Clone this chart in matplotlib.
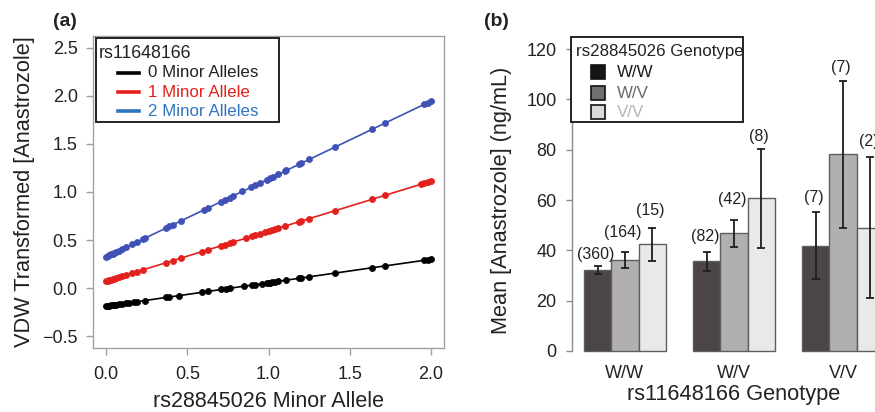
import matplotlib
matplotlib.use("Agg")
import matplotlib.pyplot as plt
from matplotlib.patches import Rectangle
from matplotlib.lines import Line2D

plt.rcParams['font.family'] = ['Liberation Sans', 'DejaVu Sans']

# ---------------- Panel (a) data ----------------
x_0minor = [0.00, 0.01, 0.02, 0.03, 0.04, 0.05, 0.06, 0.08, 0.10, 0.12, 0.14, 0.17, 0.19, 0.24,
            0.37, 0.39, 0.45, 0.59, 0.63, 0.71, 0.74, 0.76, 0.85, 0.90, 0.92, 0.96, 0.99, 1.00,
            1.01, 1.02, 1.04, 1.06, 1.11, 1.19, 1.20, 1.25, 1.41, 1.64, 1.72, 1.96, 1.98, 2.00]
y_0minor = [-0.185, -0.183, -0.180, -0.178, -0.175, -0.173, -0.170, -0.166, -0.161, -0.156,
            -0.151, -0.144, -0.139, -0.127, -0.095, -0.090, -0.076, -0.042, -0.032, -0.012,
            -0.005, 0.000, 0.022, 0.034, 0.039, 0.048, 0.056, 0.058, 0.060, 0.063, 0.068,
            0.073, 0.085, 0.104, 0.107, 0.119, 0.158, 0.214, 0.233, 0.291, 0.296, 0.301]

x_1minor = [0.00, 0.01, 0.02, 0.03, 0.04, 0.05, 0.06, 0.08, 0.10, 0.12, 0.16, 0.19, 0.23, 0.37,
            0.41, 0.46, 0.59, 0.63, 0.71, 0.73, 0.76, 0.78, 0.86, 0.90, 0.92, 0.95, 0.98, 1.00,
            1.02, 1.04, 1.06, 1.10, 1.19, 1.20, 1.25, 1.41, 1.64, 1.72, 1.94, 1.96, 1.98, 2.00]
y_1minor = [0.074, 0.079, 0.084, 0.090, 0.095, 0.100, 0.105, 0.116, 0.126, 0.136, 0.157, 0.173,
            0.193, 0.266, 0.287, 0.313, 0.380, 0.401, 0.442, 0.453, 0.468, 0.479, 0.520, 0.541,
            0.551, 0.567, 0.583, 0.593, 0.603, 0.614, 0.624, 0.645, 0.692, 0.697, 0.723, 0.806,
            0.925, 0.967, 1.081, 1.091, 1.102, 1.112]

x_2minor = [0.00, 0.01, 0.02, 0.03, 0.04, 0.05, 0.06, 0.08, 0.10, 0.12, 0.16, 0.19, 0.23, 0.24,
            0.37, 0.39, 0.41, 0.46, 0.60, 0.63, 0.71, 0.73, 0.76, 0.78, 0.84, 0.89, 0.92, 0.95,
            0.99, 1.01, 1.03, 1.06, 1.10, 1.11, 1.19, 1.20, 1.25, 1.41, 1.64, 1.72, 1.96, 1.98, 2.00]
y_2minor = [0.327, 0.335, 0.343, 0.351, 0.359, 0.367, 0.376, 0.392, 0.408, 0.424, 0.456, 0.481,
            0.513, 0.521, 0.626, 0.642, 0.658, 0.699, 0.812, 0.836, 0.901, 0.917, 0.941, 0.958,
            1.006, 1.047, 1.071, 1.095, 1.127, 1.144, 1.160, 1.184, 1.216, 1.224, 1.289, 1.297,
            1.338, 1.467, 1.653, 1.718, 1.912, 1.928, 1.944]

a_labels = ['0 Minor Alleles', '1 Minor Allele', '2 Minor Alleles']
a_legend_title = 'rs11648166'
a_xticks = [0.0, 0.5, 1.0, 1.5, 2.0]
a_yticks = [-0.5, 0.0, 0.5, 1.0, 1.5, 2.0, 2.5]

# ---------------- Panel (b) data ----------------
b_groups = ['W/W', 'W/V', 'V/V']            # rs11648166 genotype
b_series = ['W/W', 'W/V', 'V/V']            # rs28845026 genotype
ww_mean = [32.2, 35.7, 41.9]
ww_lo = [30.5, 31.8, 28.4]
ww_hi = [33.9, 39.5, 55.1]
ww_n = [360, 82, 7]
wv_mean = [36.0, 46.9, 78.2]
wv_lo = [32.9, 41.4, 49.0]
wv_hi = [39.2, 52.2, 107.2]
wv_n = [164, 42, 7]
vv_mean = [42.4, 60.7, 49.0]
vv_lo = [35.8, 41.0, 21.1]
vv_hi = [49.0, 80.4, 77.1]
vv_n = [15, 8, 2]
b_yticks = [0, 20, 40, 60, 80, 100, 120]

# ---------------- styles ----------------
line_colors = ['#000000', '#e3201b', '#3f51b5']
legend_line_colors = ['#000000', '#e3201b', '#2f74c0']
legend_text_colors = ['#222222', '#e3201b', '#2f74c0']
bar_colors = ['#4b4545', '#b2afaf', '#e9e9e9']
legend_sq_colors = ['#161616', '#707070', '#dadada']
legend_sq_text = ['#1a1a1a', '#6a6a6a', '#b5b5b5']
n_label_gap = [[4.6, 5.8, 5.7], [7.8, 8.1, 5.3], [7.0, 4.8, 6.1]]
frame_gray = '#a0a0a0'
text_col = '#222222'

W, H = 875, 412
fig = plt.figure(figsize=(W / 100, H / 100), dpi=100)

# ======== Panel (a) ========
axa = fig.add_axes([93 / W, 1 - 348 / H, (444 - 93) / W, (348 - 36) / H])
for xs, ys, c in zip([x_0minor, x_1minor, x_2minor], [y_0minor, y_1minor, y_2minor], line_colors):
    axa.plot(xs, ys, '-', color=c, lw=1.2, marker='o', ms=4.4, mec=c, mfc=c, mew=0.5)
axa.set_xlim(-0.08, 2.08)
axa.set_ylim(-0.62, 2.62)
axa.set_xticks(a_xticks)
axa.set_xticklabels([f'{v:.1f}' for v in a_xticks])
axa.set_yticks(a_yticks)
axa.set_yticklabels([f'{v:.1f}'.replace('-', '\u2212') for v in a_yticks])
for s in axa.spines.values():
    s.set_color(frame_gray)
    s.set_linewidth(1.0)
axa.tick_params(axis='both', colors=frame_gray, labelcolor=text_col, labelsize=13,
                length=5, width=1.0, direction='out')
axa.tick_params(axis='x', pad=8)
axa.tick_params(axis='y', pad=6)
axa.set_xlabel('rs28845026 Minor Allele', fontsize=15.5, color=text_col)
axa.set_ylabel('VDW Transformed [Anastrozole]', fontsize=15.7, color=text_col)
axa.xaxis.set_label_coords(0.5, (348 - 391) / 312)
axa.yaxis.set_label_coords((35 - 93) / 351, 0.5)

# legend (a)
def pxa(px, py):
    return ((px - 93) / 351, (348 - py) / 312)

bx0, by0 = pxa(95.7, 122)
bx1, by1 = pxa(279, 38)
axa.add_patch(Rectangle((bx0, by0), bx1 - bx0, by1 - by0, transform=axa.transAxes,
                        fill=True, facecolor='white', edgecolor='#222222', lw=1.4,
                        clip_on=False, zorder=5))
tx, ty = pxa(99, 53)
axa.text(tx, ty, a_legend_title, transform=axa.transAxes, ha='left', va='center',
         fontsize=12.8, color=text_col, zorder=6)
for lab, lc, tc, py in zip(a_labels, legend_line_colors, legend_text_colors, [72.7, 92.3, 111]):
    lx0, ly = pxa(118, py)
    lx1, _ = pxa(139, py)
    axa.add_line(Line2D([lx0, lx1], [ly, ly], transform=axa.transAxes, color=lc, lw=2.6,
                        clip_on=False, zorder=6))
    t0, _ = pxa(148, py)
    axa.text(t0, ly, lab, transform=axa.transAxes, ha='left', va='center',
             fontsize=12.2, color=tc, zorder=6)

fig.text(53 / W, 1 - 22 / H, '(a)', ha='left', va='center', fontsize=14, fontweight='bold',
         color=text_col)

# ======== Panel (b) ========
axb = fig.add_axes([572 / W, 1 - 363 / H, (896 - 572) / W, (363 - 37) / H])
means = [ww_mean, wv_mean, vv_mean]
los = [ww_lo, wv_lo, vv_lo]
his = [ww_hi, wv_hi, vv_hi]
ns = [ww_n, wv_n, vv_n]
for k in range(3):
    centers = [1.5 + 4 * g + k for g in range(3)]
    axb.bar(centers, means[k], width=1.0, color=bar_colors[k], edgecolor='#5e5e5e',
            linewidth=1.0, zorder=2)
    yerr = [[m - l for m, l in zip(means[k], los[k])], [h - m for m, h in zip(means[k], his[k])]]
    axb.errorbar(centers, means[k], yerr=yerr, fmt='none', ecolor='#1e1e1e', elinewidth=1.3,
                 capsize=2.8, capthick=1.3, zorder=3)
    for g in range(3):
        axb.text(centers[g] - 0.07, his[k][g] + n_label_gap[k][g], f'({ns[k][g]})',
                 ha='center', va='center', fontsize=11.5, color=text_col, zorder=4)
axb.set_xlim(0.56, 12.44)
axb.set_ylim(-4.8, 124.8)
axb.set_xticks([2.5 + 4 * g for g in range(3)])
axb.set_xticklabels(b_groups)
axb.set_yticks(b_yticks)
for side in ['top', 'right', 'bottom']:
    axb.spines[side].set_visible(False)
axb.spines['left'].set_bounds(0, 120)
axb.spines['left'].set_color('#8a8a8a')
axb.spines['left'].set_linewidth(1.0)
axb.tick_params(axis='x', length=0, pad=1.5, labelsize=13, labelcolor=text_col)
axb.tick_params(axis='y', length=4.5, width=1.0, colors='#8a8a8a', labelcolor=text_col,
                labelsize=13, pad=6.5)
axb.set_xlabel('rs11648166 Genotype', fontsize=15.7, color=text_col)
axb.set_ylabel('Mean [Anastrozole] (ng/mL)', fontsize=15.7, color=text_col)
axb.xaxis.set_label_coords((734 - 572) / 324, (363 - 384) / 326)
axb.yaxis.set_label_coords((512 - 572) / 324, 0.5)

def pxb(px, py):
    return ((px - 572) / 324, (363 - py) / 326)

bx0, by0 = pxb(571, 122)
bx1, by1 = pxb(743, 37)
axb.add_patch(Rectangle((bx0, by0), bx1 - bx0, by1 - by0, transform=axb.transAxes,
                        facecolor='white', edgecolor='#222222', lw=1.4, clip_on=False, zorder=5))
tx, ty = pxb(575.5, 51)
axb.text(tx, ty, 'rs28845026 Genotype', transform=axb.transAxes, ha='left', va='center',
         fontsize=12.2, color=text_col, zorder=6)
for lab, fc, tc, py in zip(b_series, legend_sq_colors, legend_sq_text, [72, 93.3, 112]):
    sx0, sy0 = pxb(591, py + 7)
    sx1, sy1 = pxb(605, py - 7)
    axb.add_patch(Rectangle((sx0, sy0), sx1 - sx0, sy1 - sy0, transform=axb.transAxes,
                            facecolor=fc, edgecolor='#111111', lw=1.2, clip_on=False, zorder=6))
    lx, ly = pxb(616.5, py)
    axb.text(lx, ly, lab, transform=axb.transAxes, ha='left', va='center', fontsize=12.2,
             color=tc, zorder=6)

fig.text(484 / W, 1 - 22 / H, '(b)', ha='left', va='center', fontsize=14, fontweight='bold',
         color=text_col)

fig.savefig('out.png', dpi=100)
